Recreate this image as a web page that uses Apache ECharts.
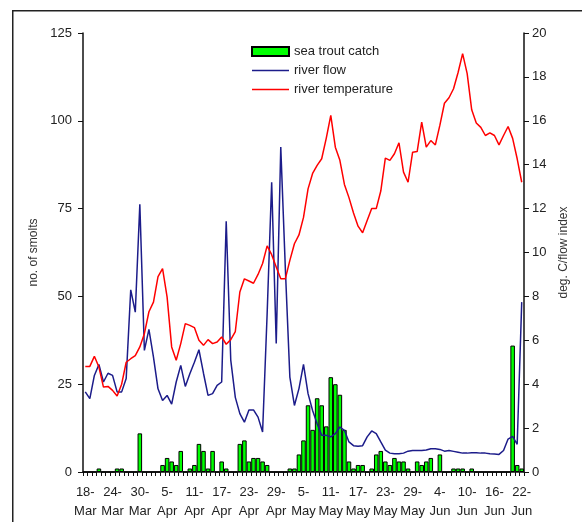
<!DOCTYPE html>
<html>
<head>
<meta charset="utf-8">
<script src="https://cdn.jsdelivr.net/npm/echarts@6/dist/echarts.min.js"></script>
<style>
html,body{margin:0;padding:0;background:#fff;}
#c{width:582px;height:522px;}
</style>
</head>
<body>
<div id="c"></div>
<script>
// Categories: daily dates 18-Mar .. 22-Jun
var categories = [
 '18-Mar','19-Mar','20-Mar','21-Mar','22-Mar','23-Mar','24-Mar','25-Mar','26-Mar','27-Mar','28-Mar','29-Mar','30-Mar','31-Mar',
 '1-Apr','2-Apr','3-Apr','4-Apr','5-Apr','6-Apr','7-Apr','8-Apr','9-Apr','10-Apr','11-Apr','12-Apr','13-Apr','14-Apr','15-Apr',
 '16-Apr','17-Apr','18-Apr','19-Apr','20-Apr','21-Apr','22-Apr','23-Apr','24-Apr','25-Apr','26-Apr','27-Apr','28-Apr','29-Apr','30-Apr',
 '1-May','2-May','3-May','4-May','5-May','6-May','7-May','8-May','9-May','10-May','11-May','12-May','13-May','14-May','15-May','16-May',
 '17-May','18-May','19-May','20-May','21-May','22-May','23-May','24-May','25-May','26-May','27-May','28-May','29-May','30-May','31-May',
 '1-Jun','2-Jun','3-Jun','4-Jun','5-Jun','6-Jun','7-Jun','8-Jun','9-Jun','10-Jun','11-Jun','12-Jun','13-Jun','14-Jun','15-Jun',
 '16-Jun','17-Jun','18-Jun','19-Jun','20-Jun','21-Jun','22-Jun'
];

// sea trout catch (no. of smolts, left axis)
var catchValues = [
 0,0,0,1,0,0,0,1,1,0,
 0,0,11,0,0,0,0,2,4,3,
 2,6,0,1,2,8,6,1,6,0,
 3,1,0,0,8,9,3,4,4,3,
 2,0,0,0,0,1,1,5,9,19,
 12,21,19,13,27,25,22,12,3,1,
 2,2,0,1,5,6,3,2,4,3,
 3,1,0,3,2,3,4,0,5,0,
 0,1,1,1,0,1,0,0,0,0,
 0,0,0,0,36,2,1
];

// river flow index (right axis)
var flowValues = [
 3.65,3.34,4.4,4.9,4.1,4.5,4.4,3.65,3.65,4.26,
 8.3,7.28,12.2,5.54,6.5,5.23,3.79,3.26,3.49,3.09,
 4.1,4.86,3.9,4.48,5.0,5.57,4.5,3.49,3.57,3.95,
 4.1,11.42,5.1,3.4,2.66,2.27,2.82,2.83,2.5,1.82,
 7.2,13.2,5.86,14.8,9.3,4.32,3.03,3.8,4.9,3.57,
 2.8,2.2,1.67,1.67,1.6,1.75,2.05,1.9,1.37,1.2,
 1.17,1.2,1.6,1.87,1.75,1.37,1.0,0.86,0.83,0.83,
 0.86,0.95,0.98,0.98,0.98,1.0,1.06,1.06,1.03,0.95,
 0.98,0.94,0.9,0.86,0.86,0.88,0.88,0.86,0.86,0.83,
 0.82,0.8,0.98,1.5,1.62,1.26,7.74
];

// river temperature, deg C (right axis)
var tempValues = [
 4.81,4.81,5.27,4.78,3.87,3.9,3.72,3.46,4.0,5.0,
 5.16,5.3,5.7,6.3,7.3,7.74,8.9,9.26,7.97,5.7,
 5.09,5.85,6.76,6.68,6.58,6.0,5.77,6.03,5.85,5.92,
 6.15,5.82,6.03,6.4,8.2,8.8,8.7,8.6,9.0,9.5,
 10.3,9.9,9.34,8.8,8.8,9.64,10.4,10.8,11.6,12.9,
 13.6,13.97,14.27,15.2,16.25,14.8,14.2,13.1,12.5,11.8,
 11.2,10.9,11.46,12.0,12.0,12.8,14.3,14.2,14.5,15.0,
 13.66,13.2,14.57,14.6,15.94,14.8,15.1,14.9,15.8,16.8,
 17.05,17.46,18.2,19.06,18.15,16.5,15.9,15.7,15.33,15.45,
 15.33,14.9,15.33,15.74,15.2,14.27,13.2
];

var seriesNames = ['sea trout catch', 'river flow', 'river temperature'];
var leftAxisName = 'no. of smolts';
var rightAxisName = 'deg. C/flow index';

var FONT = '"Liberation Sans", Arial, sans-serif';
var LINE_ICON = 'path://M0,0H37V1.5H0Z';
var chart = echarts.init(document.getElementById('c'), null, {renderer: 'canvas'});
chart.setOption({
  animation: false,
  backgroundColor: '#ffffff',
  graphic: [{
    type: 'rect',
    shape: {x: 12.75, y: 10.75, width: 600, height: 600},
    style: {fill: 'none', stroke: '#222', lineWidth: 1.5},
    silent: true
  }],
  grid: {left: 83, right: 58, top: 33, bottom: 50, containLabel: false},
  legend: {
    orient: 'vertical',
    left: 251,
    top: 45,
    padding: 0,
    itemWidth: 37,
    itemHeight: 9,
    itemGap: 6,
    data: [
      {name: seriesNames[0], icon: 'rect'},
      {name: seriesNames[1], icon: LINE_ICON},
      {name: seriesNames[2], icon: LINE_ICON}
    ],
    textStyle: {fontFamily: FONT, fontSize: 13, color: '#222'}
  },
  xAxis: {
    type: 'category',
    data: categories,
    boundaryGap: true,
    axisLine: {lineStyle: {color: '#111', width: 1.5}},
    axisTick: {show: true, interval: 0, length: 4, lineStyle: {color: '#111', width: 1}},
    axisLabel: {
      interval: 5,
      margin: 11,
      fontFamily: FONT,
      fontSize: 13,
      lineHeight: 19,
      color: '#222',
      formatter: function (v) { return v.replace('-', '-\n'); }
    },
    splitLine: {show: false}
  },
  yAxis: [{
    type: 'value',
    min: 0, max: 125, interval: 25,
    position: 'left',
    name: leftAxisName,
    nameLocation: 'middle',
    nameGap: 41,
    nameRotate: 90,
    nameTextStyle: {fontFamily: FONT, fontSize: 12, color: '#333'},
    axisLine: {show: true, lineStyle: {color: '#111', width: 1.5}},
    axisTick: {show: true, length: 5, lineStyle: {color: '#111'}},
    axisLabel: {margin: 11, fontFamily: FONT, fontSize: 13, color: '#222'},
    splitLine: {show: false}
  }, {
    type: 'value',
    min: 0, max: 20, interval: 2,
    position: 'right',
    name: rightAxisName,
    nameLocation: 'middle',
    nameGap: 33,
    nameRotate: 90,
    nameTextStyle: {fontFamily: FONT, fontSize: 12, color: '#333'},
    axisLine: {show: true, lineStyle: {color: '#111', width: 1.5}},
    axisTick: {show: true, length: 5, lineStyle: {color: '#111'}},
    axisLabel: {margin: 8, fontFamily: FONT, fontSize: 13, color: '#222'},
    splitLine: {show: false}
  }],
  series: [{
    name: seriesNames[0],
    type: 'bar',
    yAxisIndex: 0,
    data: catchValues,
    barCategoryGap: '0%',
    itemStyle: {color: '#00ff00', borderColor: '#000', borderWidth: 1},
    z: 2
  }, {
    name: seriesNames[1],
    type: 'line',
    yAxisIndex: 1,
    data: flowValues,
    symbol: 'none',
    showSymbol: false,
    lineStyle: {color: '#1c1c8a', width: 1.5},
    itemStyle: {color: '#1c1c8a'},
    z: 3
  }, {
    name: seriesNames[2],
    type: 'line',
    yAxisIndex: 1,
    data: tempValues,
    symbol: 'none',
    showSymbol: false,
    lineStyle: {color: '#ff0000', width: 1.5},
    itemStyle: {color: '#ff0000'},
    z: 3
  }]
});
</script>
</body>
</html>
